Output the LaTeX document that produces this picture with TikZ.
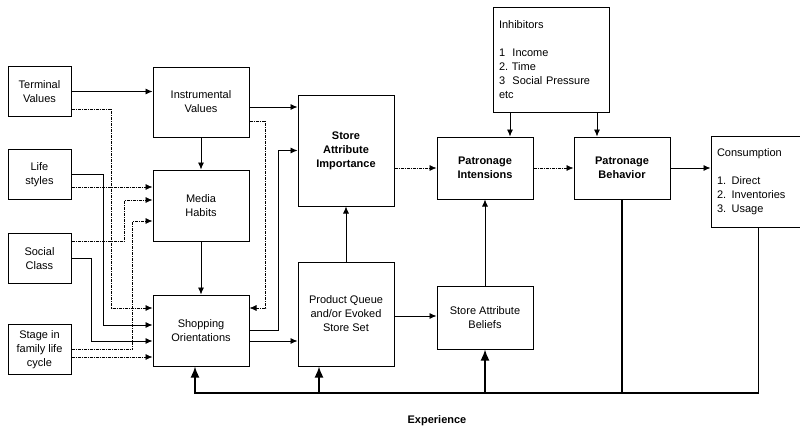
\documentclass[tikz,border=0pt]{standalone}
\usepackage{fontspec}
\setmainfont{Liberation Sans}
\usetikzlibrary{positioning}
\usetikzlibrary{arrows.meta}

\begin{document}
\begin{tikzpicture}[x=1pt, y=-1pt,
  font=\fontsize{11}{14}\selectfont,
  box/.style={draw, line width=1pt, align=center, inner sep=2pt},
  arrowto/.style={-{Latex[length=7pt,width=6pt]}},
  link/.style={line width=0.8pt},
  dotlink/.style={line width=0.7pt, dash pattern=on 3pt off 1pt on 1pt off 1pt},
  feedback/.style={line width=1.6pt},
  bigarrow/.style={-{Latex[length=11pt,width=9pt]}}]
\useasboundingbox (0,0) rectangle (800,429);
% left column
\foreach \name/\y/\phrase in {
    tv/91.5/Terminal\\Values,
    ls/174.5/Life\\styles,
    sc/258.5/Social\\Class,
    st/349.5/Stage in\\family life\\cycle} {
  \node[box, minimum width=63pt, minimum height=50pt]
    (\name)
    at (39.5, \y)
    {\phrase};
}
% values, habits, orientations
\node[box, minimum width=96pt, minimum height=70pt]
  (iv)
  at (201, 102)
  {Instrumental\\Values};
\node[box, minimum width=96pt, minimum height=71pt]
  (mh)
  at (201, 205.5)
  {Media\\Habits};
\node[box, minimum width=96pt, minimum height=71pt]
  (so)
  at (201, 330.5)
  {Shopping\\Orientations};
% store
\node[box, font=\fontsize{11}{14}\selectfont\bfseries, minimum width=96pt, minimum height=111pt]
  (sai)
  at (346, 150.5)
  {Store\\Attribute\\Importance};
\node[box, minimum width=96pt, minimum height=104pt]
  (pq)
  at (346, 314)
  {Product Queue\\and/or Evoked\\Store Set};
\node[box, font=\fontsize{11}{14}\selectfont\bfseries, minimum width=96pt, minimum height=62pt]
  (pi)
  at (485, 168)
  {Patronage\\Intensions};
\node[box, minimum width=96pt, minimum height=63pt]
  (sab)
  at (485, 317.5)
  {Store Attribute\\Beliefs};
% patronage
\node[box, align=left, text width=104pt, inner xsep=6pt, minimum height=105pt]
  (inh)
  at (551, 59.5)
  {Inhibitors\\[14pt]1\ \ Income\\2.\ Time\\3\ \ Social Pressure\\etc};
\node[box, font=\fontsize{11}{14}\selectfont\bfseries, minimum width=96pt, minimum height=62pt]
  (pb)
  at (622, 168)
  {Patronage\\Behavior};
\node[box, align=left, text width=83pt, inner xsep=6pt, minimum height=91pt]
  (con)
  at (758.5, 181.5)
  {Consumption\\[14pt]1. Direct\\2. Inventories\\3. Usage};
% left column to habits and orientations
\draw[link, arrowto] (tv.east) -- (tv.east -| iv.west);
\draw[dotlink, arrowto] ([yshift=-17.5pt]tv.east) -| ([xshift=-41pt, yshift=22.5pt]so.west) -- ([yshift=22.5pt]so.west);
\draw[dotlink, arrowto] ([yshift=-12.5pt]ls.east) -- ([yshift=18.5pt]mh.west);
\draw[link, arrowto] (ls.east) -| ([xshift=-49pt, yshift=5.5pt]so.west) -- ([yshift=5.5pt]so.west);
\draw[dotlink, arrowto] ([yshift=17.5pt]sc.east) -| ([xshift=-28pt, yshift=5.5pt]mh.west) -- ([yshift=5.5pt]mh.west);
\draw[link, arrowto] (sc.east) -| ([xshift=-61pt, yshift=-10.5pt]so.west) -- ([yshift=-10.5pt]so.west);
\draw[dotlink, arrowto] (st.east) -| ([xshift=-20pt, yshift=-15.5pt]mh.west) -- ([yshift=-15.5pt]mh.west);
\draw[dotlink, arrowto] ([yshift=-7.5pt]st.east) -- ([yshift=-26.5pt]so.west);
% middle
\draw[link, arrowto] (iv) -- (mh);
\draw[link, arrowto] (mh) -- (so);
\draw[link, arrowto] ([yshift=-5pt]iv.east) -- ([yshift=-5pt]iv.east -| sai.west);
\draw[dotlink, arrowto] ([yshift=-19pt]iv.east) -| ([xshift=16pt, yshift=22.5pt]so.east) -- ([yshift=22.5pt]so.east);
\draw[link, arrowto] (so.east) -| ([xshift=-19pt]sai.west) -- (sai.west);
\draw[link, arrowto] ([yshift=-10.5pt]so.east) -- ([yshift=-10.5pt]so.east -| pq.west);
\draw[link, arrowto] (pq) -- (sai);
\draw[link, arrowto] ([yshift=-2pt]pq.east) -- ([yshift=-2pt]pq.east -| sab.west);
\draw[dotlink, arrowto] (sai.east |- pi.west) -- (pi.west);
\draw[link, arrowto] (sab) -- (pi);
% right
\draw[link, arrowto] ([xshift=25pt]pi.north |- inh.south) -- ([xshift=25pt]pi.north);
\draw[link, arrowto] ([xshift=-25pt]pb.north |- inh.south) -- ([xshift=-25pt]pb.north);
\draw[dotlink, arrowto] (pi) -- (pb);
\draw[link, arrowto] (pb.east) -- (pb.east -| con.west);
% experience feedback
\coordinate (exp) at (195, 393);
\draw[feedback, bigarrow] (con.south) |- (exp) -- ([xshift=-6pt]so.south);
\draw[feedback] (pb.south) -- (pb.south |- exp);
\draw[feedback, bigarrow] ([xshift=-27pt]pq.south |- exp) -- ([xshift=-27pt]pq.south);
\draw[feedback, bigarrow] (sab.south |- exp) -- (sab.south);
\node[font=\fontsize{11}{14}\selectfont\bfseries]
  (explabel)
  at (437, 421)
  {Experience};
\end{tikzpicture}
\end{document}
